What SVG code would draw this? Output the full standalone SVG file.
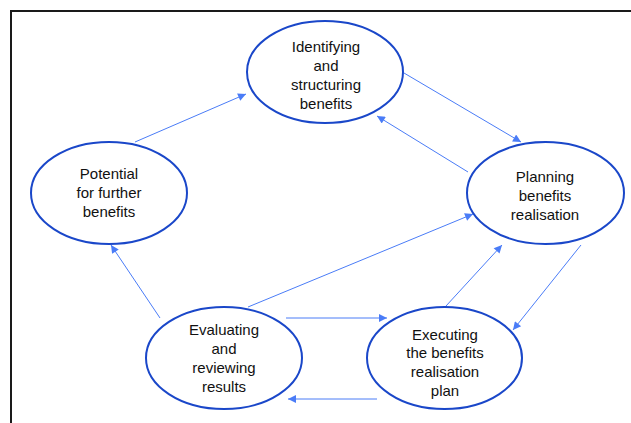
<svg xmlns="http://www.w3.org/2000/svg" width="631" height="423" viewBox="0 0 631 423">
<style>
.node{fill:#fff;stroke:#1a47c9;stroke-width:2}
.lbl{font-family:"Liberation Sans",Arial,sans-serif;font-size:15px;fill:#111;text-anchor:middle}
.edge{stroke:#4a7cf7;stroke-width:1;fill:none;marker-end:url(#ah)}
</style>
<defs>
<marker id="ah" viewBox="0 0 10 10" refX="10" refY="5" markerWidth="10" markerHeight="8" markerUnits="userSpaceOnUse" orient="auto">
<path d="M0,0 L10,5 L0,10 z" fill="#4a7cf7"/>
</marker>
</defs>
<rect x="0" y="0" width="631" height="423" fill="#fff"/>
<path d="M11,423 V11 H631" fill="none" stroke="#1a1a1a" stroke-width="2"/>
<g id="connectors">
<line class="edge" x1="135" y1="142" x2="246" y2="94"/>
<line class="edge" x1="404" y1="73" x2="521" y2="142"/>
<line class="edge" x1="468" y1="172" x2="377" y2="116"/>
<line class="edge" x1="160" y1="318" x2="111" y2="245"/>
<line class="edge" x1="248" y1="307" x2="473" y2="214"/>
<line class="edge" x1="286" y1="318" x2="387" y2="318"/>
<line class="edge" x1="377" y1="399" x2="288" y2="399"/>
<line class="edge" x1="446" y1="306" x2="502" y2="245"/>
<line class="edge" x1="581" y1="245" x2="513" y2="330"/>
</g>
<g id="identifying">
<ellipse class="node" cx="325" cy="72" rx="78" ry="51"/>
<text class="lbl" x="326" y="52">Identifying</text>
<text class="lbl" x="326" y="71">and</text>
<text class="lbl" x="326" y="90">structuring</text>
<text class="lbl" x="326" y="109">benefits</text>
</g>
<g id="potential">
<ellipse class="node" cx="109" cy="193" rx="78" ry="51"/>
<text class="lbl" x="109" y="179">Potential</text>
<text class="lbl" x="109" y="198">for further</text>
<text class="lbl" x="109" y="217">benefits</text>
</g>
<g id="planning">
<ellipse class="node" cx="545.5" cy="193" rx="78.5" ry="51"/>
<text class="lbl" x="545" y="182">Planning</text>
<text class="lbl" x="545" y="201">benefits</text>
<text class="lbl" x="545" y="220">realisation</text>
</g>
<g id="evaluating">
<ellipse class="node" cx="224" cy="358" rx="78" ry="51"/>
<text class="lbl" x="224" y="335">Evaluating</text>
<text class="lbl" x="224" y="354">and</text>
<text class="lbl" x="224" y="373">reviewing</text>
<text class="lbl" x="224" y="392">results</text>
</g>
<g id="executing">
<ellipse class="node" cx="444.5" cy="358" rx="77.5" ry="51"/>
<text class="lbl" x="445" y="340">Executing</text>
<text class="lbl" x="445" y="358">the benefits</text>
<text class="lbl" x="445" y="377">realisation</text>
<text class="lbl" x="445" y="396">plan</text>
</g>
</svg>
